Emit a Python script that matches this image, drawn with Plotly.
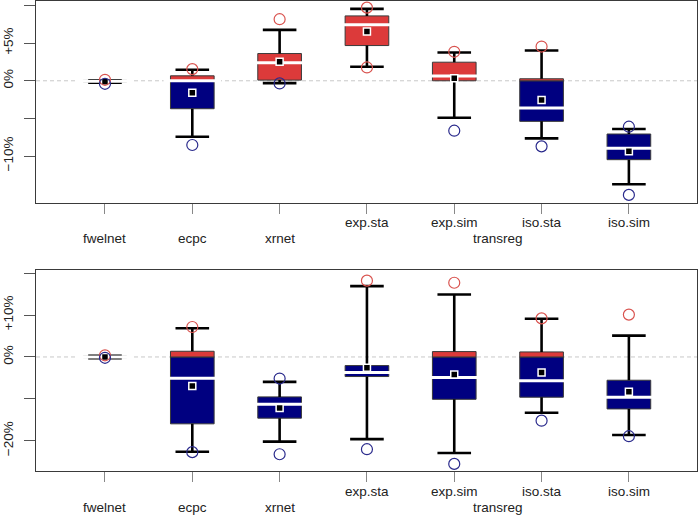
import plotly.graph_objects as go

# ---------------- data ----------------
categories = ["fwelnet", "ecpc", "xrnet", "exp.sta", "exp.sim", "iso.sta", "iso.sim"]
groups = [None, None, None, "transreg", "transreg", "transreg", "transreg"]

# top panel (%)
top_q1 = [-0.15, -3.71, 0.09, 4.68, 0.0, -5.39, -10.48]
top_q3 = [0.05, 0.66, 3.62, 8.62, 2.47, 0.27, -7.07]
top_med = [-0.05, 0.0, 2.39, 7.43, 0.62, -3.63, -8.97]
top_mean = [-0.13, -1.59, 2.52, 6.54, 0.35, -2.56, -9.37]
top_wlo = [-0.25, -7.43, -0.31, 1.86, -4.91, -7.65, -13.75]
top_whi = [0.08, 1.46, 6.76, 9.55, 3.76, 4.02, -6.41]
top_cmin = [-0.4, -8.53, -0.35, 1.77, -6.63, -8.71, -15.16]
top_cmax = [0.13, 1.55, 8.18, 9.72, 3.85, 4.55, -6.10]
top_tickvals = [-10, -5, 0, 5, 10]
top_ticktext = ["\u221210%", "", "0%", "+5%", ""]

# bottom panel (%)
bot_q1 = [-0.15, -15.95, -14.6, -4.67, -10.1, -9.6, -12.4]
bot_q3 = [0.15, 1.36, -9.52, -2.05, 1.28, 1.2, -5.55]
bot_med = [0.0, -5.07, -11.26, -3.7, -4.9, -5.7, -9.6]
bot_mean = [0.0, -6.9, -12.2, -2.6, -4.2, -3.7, -8.3]
bot_wlo = [-0.3, -22.6, -20.2, -19.6, -22.9, -13.3, -18.6]
bot_whi = [0.3, 6.83, -5.95, 16.9, 14.9, 9.1, 5.1]
bot_cmin = [-0.2, -22.7, -23.2, -22.0, -25.5, -15.2, -18.9]
bot_cmax = [0.4, 7.14, -5.15, 18.2, 17.7, 9.2, 10.1]
bot_tickvals = [-20, -10, 0, 10, 20]
bot_ticktext = ["\u221220%", "", "0%", "+10%", ""]

# ---------------- style ----------------
RED = "#DC3A3A"
NAVY = "#000080"
RED_C = "#D9534F"
NAVY_C = "#2A2A8C"
EDGE = "#3a3a3a"
FONT = "Liberation Sans"
BOX_W = 0.5

pos = list(range(1, len(categories) + 1))

fig = go.Figure()


def add_panel(q1, q3, med, mean, wlo, whi, cmin, cmax, xa, ya):
    rb, rh, nb, nh = [], [], [], []
    for a, b in zip(q1, q3):
        if b > 0:
            lo = max(a, 0)
            rb.append(lo)
            rh.append(b - lo)
        else:
            rb.append(None)
            rh.append(None)
        if a < 0:
            hi = min(b, 0)
            nb.append(a)
            nh.append(hi - a)
        else:
            nb.append(None)
            nh.append(None)
    fig.add_trace(go.Bar(x=pos, y=nh, base=nb, width=BOX_W, marker=dict(color=NAVY, line=dict(color=EDGE, width=1)),
                         xaxis=xa, yaxis=ya, showlegend=False, hoverinfo="skip"))
    fig.add_trace(go.Bar(x=pos, y=rh, base=rb, width=BOX_W, marker=dict(color=RED, line=dict(color=EDGE, width=1)),
                         xaxis=xa, yaxis=ya, showlegend=False, hoverinfo="skip"))
    # whiskers
    wx, wy = [], []
    for p, a, b, lo, hi in zip(pos, q1, q3, wlo, whi):
        wx += [p, p, None, p, p, None]
        wy += [b, hi, None, a, lo, None]
    fig.add_trace(go.Scatter(x=wx, y=wy, mode="lines", line=dict(color="black", width=2.6),
                             xaxis=xa, yaxis=ya, showlegend=False, hoverinfo="skip"))
    # caps
    fig.add_trace(go.Scatter(x=pos + pos, y=whi + wlo, mode="markers",
                             marker=dict(symbol="line-ew", size=24, line=dict(color="black", width=2.6)),
                             xaxis=xa, yaxis=ya, showlegend=False, hoverinfo="skip"))
    # median
    fig.add_trace(go.Scatter(x=pos, y=med, mode="markers",
                             marker=dict(symbol="line-ew", size=41, line=dict(color="white", width=3)),
                             xaxis=xa, yaxis=ya, showlegend=False, hoverinfo="skip"))
    # mean
    fig.add_trace(go.Scatter(x=pos, y=mean, mode="markers",
                             marker=dict(symbol="square", size=7, color="black", line=dict(color="white", width=1.5)),
                             xaxis=xa, yaxis=ya, showlegend=False, hoverinfo="skip"))
    # extremes
    cv = cmax + cmin
    cc = [RED_C if v > 0 else NAVY_C for v in cv]
    fig.add_trace(go.Scatter(x=pos + pos, y=cv, mode="markers",
                             marker=dict(symbol="circle-open", size=11, color=cc, line=dict(width=1.2)),
                             xaxis=xa, yaxis=ya, showlegend=False, hoverinfo="skip"))


add_panel(top_q1, top_q3, top_med, top_mean, top_wlo, top_whi, top_cmin, top_cmax, "x", "y")
add_panel(bot_q1, bot_q3, bot_med, bot_mean, bot_wlo, bot_whi, bot_cmin, bot_cmax, "x2", "y2")

xcommon = dict(range=[0.21, 7.78], tickmode="array", tickvals=pos, showticklabels=False,
               ticks="outside", ticklen=10, tickcolor="#888", tickwidth=1,
               showline=True, linecolor=EDGE, linewidth=1, mirror=True, showgrid=False, zeroline=False)
ycommon = dict(tickmode="array", ticks="outside", ticklen=11, tickcolor="#555", tickwidth=1,
               tickangle=-90, tickfont=dict(family=FONT, size=13.5, color="#222"), ticklabelstandoff=6,
               showline=True, linecolor=EDGE, linewidth=1, mirror=True, showgrid=False, zeroline=False)

fig.update_layout(
    width=698, height=515,
    margin=dict(l=36, r=1, t=1, b=44),
    paper_bgcolor="white", plot_bgcolor="white",
    barmode="overlay",
    xaxis=dict(domain=[0, 1], anchor="y", **xcommon),
    yaxis=dict(domain=[0.5711, 1], anchor="x", range=[-16.18, 10.6],
               tickvals=top_tickvals, ticktext=top_ticktext, **ycommon),
    xaxis2=dict(domain=[0, 1], anchor="y2", **xcommon),
    yaxis2=dict(domain=[0, 0.4282], anchor="x2", range=[-27.2, 20.8],
                tickvals=bot_tickvals, ticktext=bot_ticktext, **ycommon),
    font=dict(family=FONT, size=13.5, color="#222"),
)

# dashed zero reference lines
for xr, yr in (("x domain", "y"), ("x2 domain", "y2")):
    fig.add_shape(type="line", xref=xr, yref=yr, x0=0, x1=1, y0=0, y1=0,
                  line=dict(color="#c8c8c8", width=1, dash="4px,3px"), layer="below")

# category labels (staggered) and group label
for xr, yr in (("x", "y domain"), ("x2", "y2 domain")):
    for p, name, g in zip(pos, categories, groups):
        fig.add_annotation(x=p, y=0, xref=xr, yref=yr, text=name, showarrow=False,
                           yanchor="middle", yshift=-20 if g else -36,
                           font=dict(family=FONT, size=13.5, color="#222"))
    gnames = [g for g in dict.fromkeys(groups) if g]
    for gname in gnames:
        gp = [p for p, g in zip(pos, groups) if g == gname]
        fig.add_annotation(x=(min(gp) + max(gp)) / 2, y=0, xref=xr, yref=yr, text=gname,
                           showarrow=False, yanchor="middle", yshift=-36,
                           font=dict(family=FONT, size=13.5, color="#222"))

fig.write_html("out.html", config={"displayModeBar": False},
               post_script="document.body.style.margin='0';document.body.style.overflow='hidden';")
